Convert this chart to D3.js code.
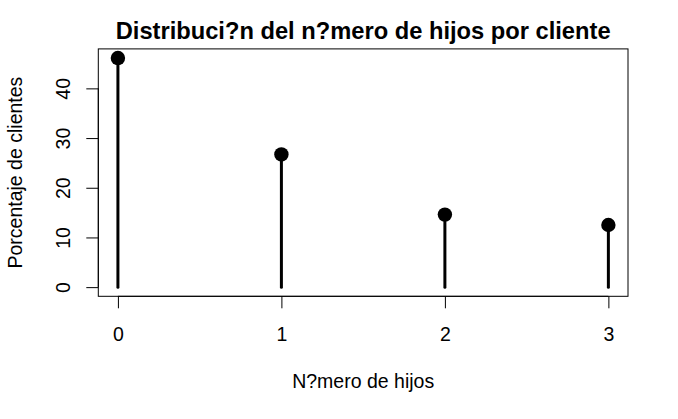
<!DOCTYPE html>
<html><head><meta charset="utf-8">
<script src="https://cdn.jsdelivr.net/npm/d3@7"></script>
<style>
html,body{margin:0;padding:0;background:#fff;}
text{font-family:"Liberation Sans",Arial,Helvetica,sans-serif;fill:#000;}
</style></head>
<body>
<svg id="chart" width="678" height="419"></svg>
<script>
const categories = [0, 1, 2, 3];
const percentages = [46.1, 26.7, 14.6, 12.5];
const yTicks = [0, 10, 20, 30, 40];
const title = "Distribuci?n del n?mero de hijos por cliente";
const xLabel = "N?mero de hijos";
const yLabel = "Porcentaje de clientes";

const svg = d3.select("#chart");
const L = 98.3, R = 628, T = 48.9, B = 296.3;
const FS = 19.5;

const ymax = d3.max(percentages);
const x = d3.scaleLinear().domain([-0.12, 3.12]).range([L, R]);
const y = d3.scaleLinear().domain([-0.04 * ymax, ymax * 1.04]).range([B, T]);

// box
svg.append("rect").attr("x", L).attr("y", T).attr("width", R - L).attr("height", B - T)
  .attr("fill", "none").attr("stroke", "#000").attr("stroke-width", 1);

// x axis
const xAxis = d3.axisBottom(x).tickValues(categories).tickSize(12).tickFormat(d3.format("d"));
const gx = svg.append("g").attr("transform", `translate(0,${B})`).call(xAxis);
gx.attr("font-size", null).attr("font-family", null);
gx.select(".domain").attr("d", `M${x(0)},0H${x(3)}`).attr("stroke", "#000");
gx.selectAll(".tick line").attr("stroke", "#000");
gx.selectAll(".tick text").attr("y", 341 - B).attr("dy", null)
  .attr("font-size", FS).attr("fill", "#000");

// y axis
const yAxis = d3.axisLeft(y).tickValues(yTicks).tickSize(12).tickFormat(d3.format("d"));
const gy = svg.append("g").attr("transform", `translate(${L},0)`).call(yAxis);
gy.attr("font-size", null).attr("font-family", null);
gy.select(".domain").attr("d", `M0,${y(0)}V${y(40)}`).attr("stroke", "#000");
gy.selectAll(".tick line").attr("stroke", "#000");
gy.selectAll(".tick text")
  .attr("x", null).attr("dy", null)
  .attr("transform", `translate(${70 - L},0) rotate(-90)`)
  .attr("text-anchor", "middle")
  .attr("font-size", FS).attr("fill", "#000");

// stems
svg.append("g").selectAll("line").data(categories).join("line")
  .attr("x1", d => x(d)).attr("x2", d => x(d))
  .attr("y1", y(0)).attr("y2", (d, i) => y(percentages[i]))
  .attr("stroke", "#000").attr("stroke-width", 3).attr("stroke-linecap", "round");

// points
svg.append("g").selectAll("circle").data(categories).join("circle")
  .attr("cx", d => x(d)).attr("cy", (d, i) => y(percentages[i]))
  .attr("r", 7.2).attr("fill", "#000");

// title
svg.append("text").attr("x", (L + R) / 2).attr("y", 39.3).attr("text-anchor", "middle")
  .attr("font-size", 23.7).attr("font-weight", "bold").text(title);

// x label
svg.append("text").attr("x", (L + R) / 2).attr("y", 388).attr("text-anchor", "middle")
  .attr("font-size", FS).text(xLabel);

// y label
svg.append("text").attr("transform", `translate(21.5,${(T + B) / 2}) rotate(-90)`)
  .attr("text-anchor", "middle").attr("font-size", FS).text(yLabel);
</script>
</body></html>
